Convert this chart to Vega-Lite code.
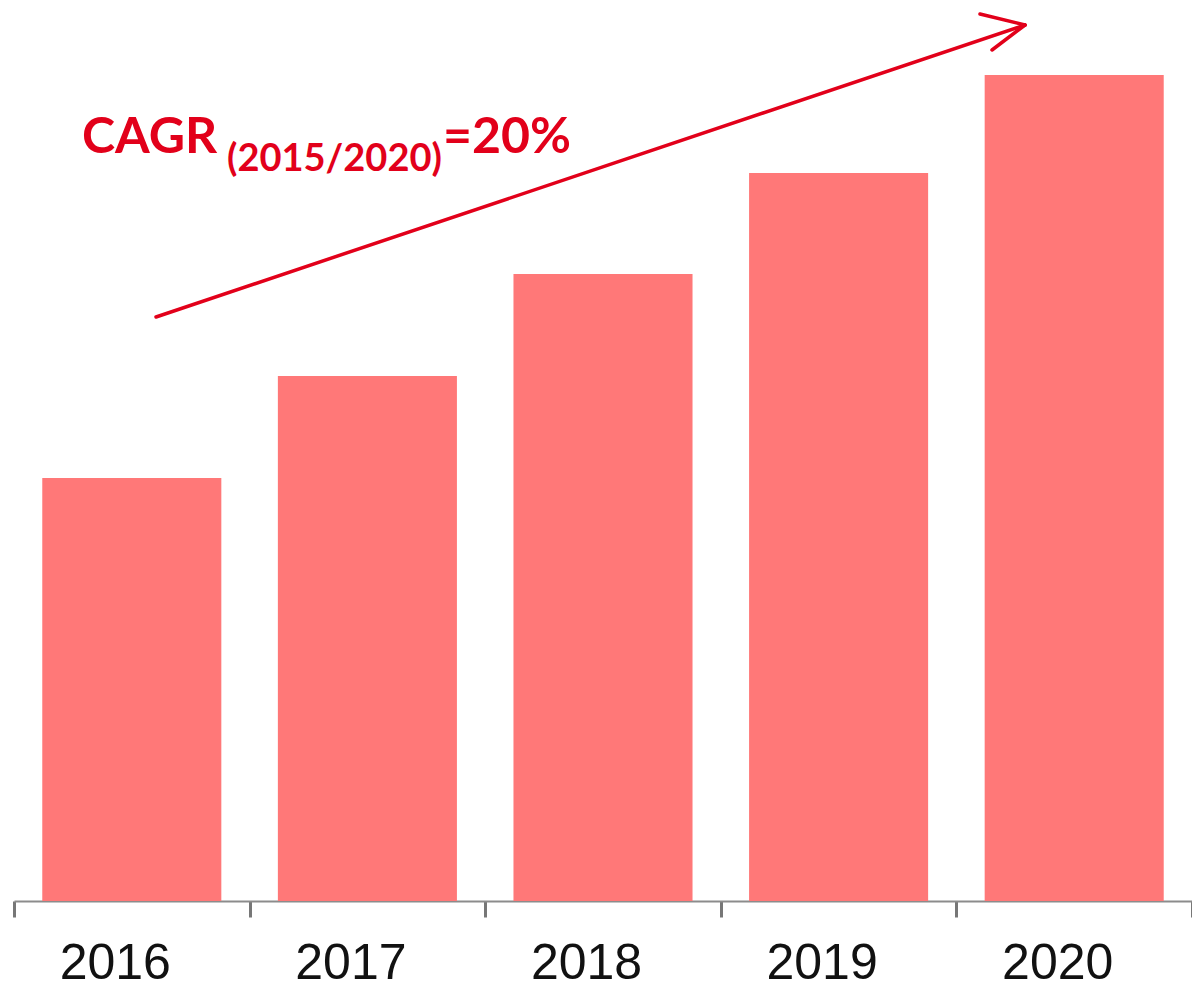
{
  "$schema": "https://vega.github.io/schema/vega-lite/v6.json",
  "width": 1178,
  "height": 901,
  "autosize": {"type": "none"},
  "padding": {"left": 14, "top": 0, "right": 0, "bottom": 91},
  "background": "white",
  "config": {"view": {"stroke": null}},
  "layer": [
    {
      "data": {"values": [
        {"year": "2016", "value": 42.3},
        {"year": "2017", "value": 52.5},
        {"year": "2018", "value": 62.7},
        {"year": "2019", "value": 72.8},
        {"year": "2020", "value": 82.6}
      ]},
      "mark": {"type": "bar", "color": "#FF7878", "width": {"band": 0.76}},
      "encoding": {
        "x": {
          "field": "year", "type": "nominal", "sort": null,
          "scale": {"paddingInner": 0, "paddingOuter": 0},
          "axis": {
            "title": null, "labelAngle": 0, "tickBand": "extent",
            "domainColor": "#8c8c8c", "domainWidth": 2,
            "tickColor": "#777777", "tickWidth": 3, "tickSize": 16,
            "labelFont": "Liberation Sans",
            "labelFontSize": 50, "labelColor": "#111111",
            "labelPadding": 21, "labelOffset": -17
          }
        },
        "y": {
          "field": "value", "type": "quantitative",
          "scale": {"domain": [0, 90.1], "nice": false, "zero": true},
          "axis": null
        }
      }
    },
    {
      "data": {"values": [
        {"ax": 142, "ay": 58.4, "bx": 1011, "by": 87.6},
        {"ax": 966, "ay": 88.7, "bx": 1011, "by": 87.6},
        {"ax": 978, "ay": 85.1, "bx": 1011, "by": 87.6}
      ]},
      "mark": {"type": "rule", "color": "#E2001A", "strokeWidth": 3.5, "strokeCap": "round"},
      "encoding": {
        "x": {"field": "ax", "type": "quantitative", "scale": {"domain": [0, 1178], "nice": false, "zero": false}, "axis": null},
        "x2": {"field": "bx"},
        "y": {"field": "ay", "type": "quantitative"},
        "y2": {"field": "by"}
      }
    },
    {
      "data": {"values": [
        {"label": "CAGR", "tx": 68, "ty": 74.8},
        {"label": "=20%", "tx": 429, "ty": 74.8}
      ]},
      "mark": {"type": "text", "font": "Lato", "fontWeight": "bold", "fontSize": 50, "color": "#E2001A", "align": "left", "baseline": "alphabetic"},
      "encoding": {
        "x": {"field": "tx", "type": "quantitative", "scale": {"domain": [0, 1178], "nice": false, "zero": false}, "axis": null},
        "y": {"field": "ty", "type": "quantitative"},
        "text": {"field": "label"}
      }
    },
    {
      "data": {"values": [
        {"label": "(2015/2020)", "tx": 213, "ty": 73.0}
      ]},
      "mark": {"type": "text", "font": "Lato", "fontWeight": "bold", "fontSize": 38, "color": "#E2001A", "align": "left", "baseline": "alphabetic"},
      "encoding": {
        "x": {"field": "tx", "type": "quantitative", "scale": {"domain": [0, 1178], "nice": false, "zero": false}, "axis": null},
        "y": {"field": "ty", "type": "quantitative"},
        "text": {"field": "label"}
      }
    }
  ],
  "resolve": {"scale": {"x": "independent"}}
}
